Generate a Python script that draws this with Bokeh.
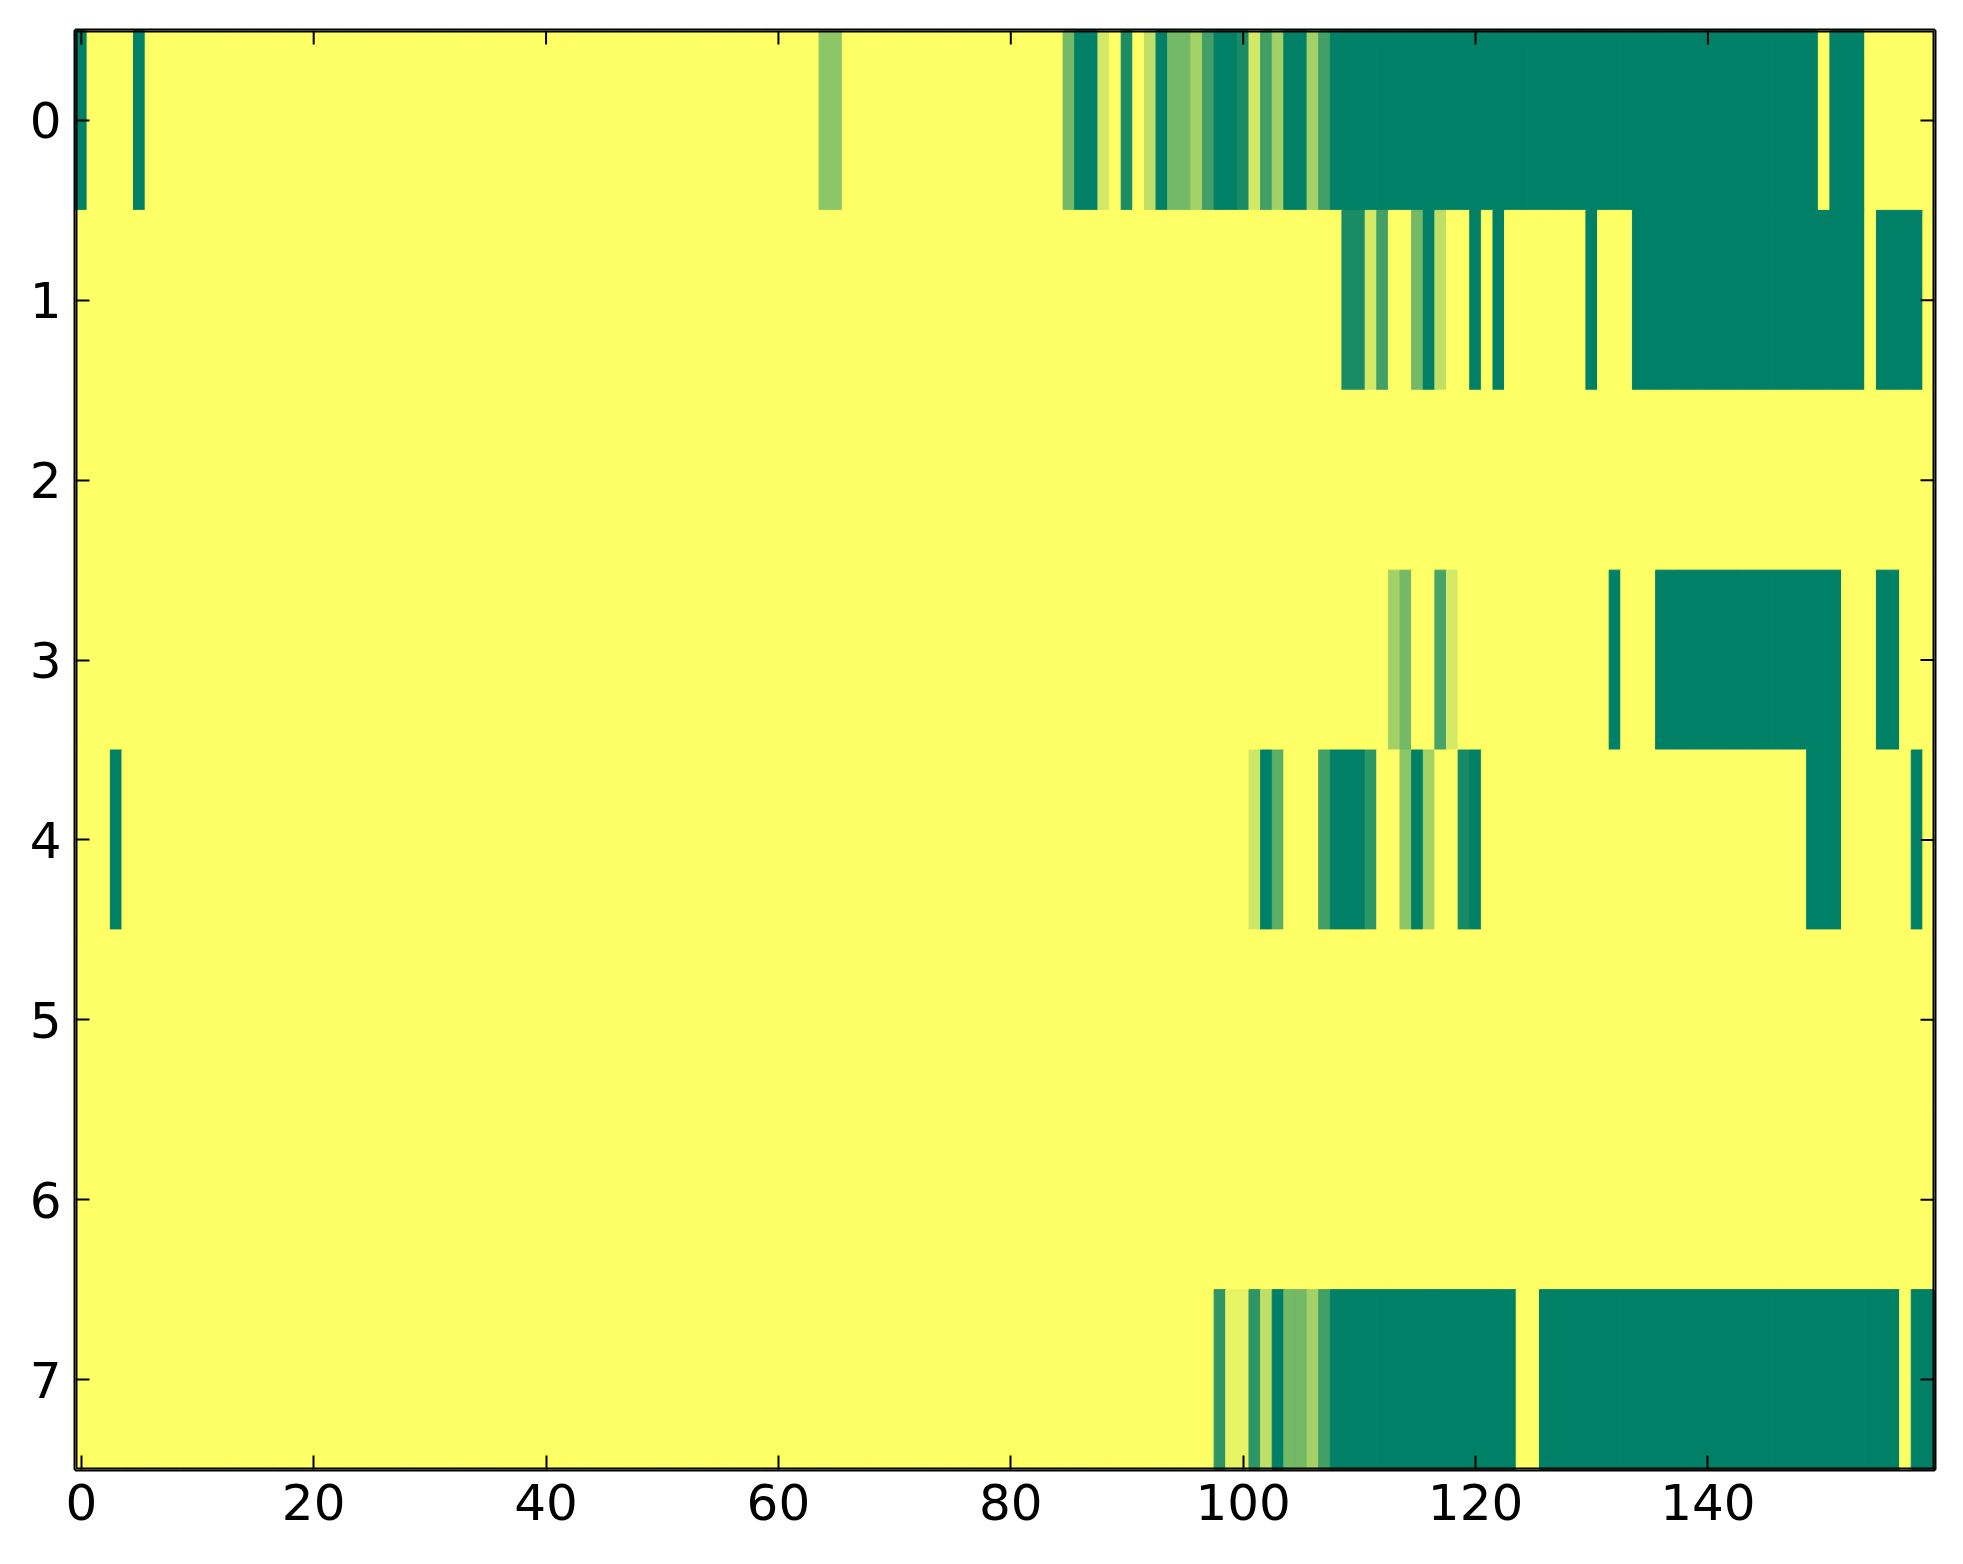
import math
from bokeh.plotting import figure
from bokeh.models import Range1d, FixedTicker, LinearAxis, ColumnDataSource, BoxAnnotation
from bokeh.transform import linear_cmap
from bokeh.embed import file_html
from bokeh.resources import INLINE

# values (0 = yellow ... 100 = dark green), 160 columns per row
row0 = [100, 0, 0, 0, 0, 100, 0, 0, 0, 0, 0, 0, 0, 0, 0, 0, 0, 0, 0, 0,
        0, 0, 0, 0, 0, 0, 0, 0, 0, 0, 0, 0, 0, 0, 0, 0, 0, 0, 0, 0,
        0, 0, 0, 0, 0, 0, 0, 0, 0, 0, 0, 0, 0, 0, 0, 0, 0, 0, 0, 0,
        0, 0, 0, 0, 45, 45, 0, 0, 0, 0, 0, 0, 0, 0, 0, 0, 0, 0, 0, 0,
        0, 0, 0, 0, 0, 55, 100, 100, 17, 0, 90, 0, 25, 100, 55, 55, 36, 74, 100, 100,
        90, 17, 74, 36, 100, 100, 36, 74, 100, 100, 100, 100, 100, 100, 100, 100, 100, 100, 100, 100,
        100, 100, 100, 100, 100, 100, 100, 100, 100, 100, 100, 100, 100, 100, 100, 100, 100, 100, 100, 100,
        100, 100, 100, 100, 100, 100, 100, 100, 100, 100, 0, 100, 100, 100, 0, 0, 0, 0, 0, 0]

row1 = [0, 0, 0, 0, 0, 0, 0, 0, 0, 0, 0, 0, 0, 0, 0, 0, 0, 0, 0, 0,
        0, 0, 0, 0, 0, 0, 0, 0, 0, 0, 0, 0, 0, 0, 0, 0, 0, 0, 0, 0,
        0, 0, 0, 0, 0, 0, 0, 0, 0, 0, 0, 0, 0, 0, 0, 0, 0, 0, 0, 0,
        0, 0, 0, 0, 0, 0, 0, 0, 0, 0, 0, 0, 0, 0, 0, 0, 0, 0, 0, 0,
        0, 0, 0, 0, 0, 0, 0, 0, 0, 0, 0, 0, 0, 0, 0, 0, 0, 0, 0, 0,
        0, 0, 0, 0, 0, 0, 0, 0, 0, 90, 90, 17, 74, 0, 0, 55, 100, 25, 0, 0,
        100, 0, 100, 0, 0, 0, 0, 0, 0, 0, 100, 0, 0, 0, 100, 100, 100, 100, 100, 100,
        100, 100, 100, 100, 100, 100, 100, 100, 100, 100, 100, 100, 100, 100, 0, 100, 100, 100, 100, 0]

row2 = [0, 0, 0, 0, 0, 0, 0, 0, 0, 0, 0, 0, 0, 0, 0, 0, 0, 0, 0, 0,
        0, 0, 0, 0, 0, 0, 0, 0, 0, 0, 0, 0, 0, 0, 0, 0, 0, 0, 0, 0,
        0, 0, 0, 0, 0, 0, 0, 0, 0, 0, 0, 0, 0, 0, 0, 0, 0, 0, 0, 0,
        0, 0, 0, 0, 0, 0, 0, 0, 0, 0, 0, 0, 0, 0, 0, 0, 0, 0, 0, 0,
        0, 0, 0, 0, 0, 0, 0, 0, 0, 0, 0, 0, 0, 0, 0, 0, 0, 0, 0, 0,
        0, 0, 0, 0, 0, 0, 0, 0, 0, 0, 0, 0, 0, 0, 0, 0, 0, 0, 0, 0,
        0, 0, 0, 0, 0, 0, 0, 0, 0, 0, 0, 0, 0, 0, 0, 0, 0, 0, 0, 0,
        0, 0, 0, 0, 0, 0, 0, 0, 0, 0, 0, 0, 0, 0, 0, 0, 0, 0, 0, 0]

row3 = [0, 0, 0, 0, 0, 0, 0, 0, 0, 0, 0, 0, 0, 0, 0, 0, 0, 0, 0, 0,
        0, 0, 0, 0, 0, 0, 0, 0, 0, 0, 0, 0, 0, 0, 0, 0, 0, 0, 0, 0,
        0, 0, 0, 0, 0, 0, 0, 0, 0, 0, 0, 0, 0, 0, 0, 0, 0, 0, 0, 0,
        0, 0, 0, 0, 0, 0, 0, 0, 0, 0, 0, 0, 0, 0, 0, 0, 0, 0, 0, 0,
        0, 0, 0, 0, 0, 0, 0, 0, 0, 0, 0, 0, 0, 0, 0, 0, 0, 0, 0, 0,
        0, 0, 0, 0, 0, 0, 0, 0, 0, 0, 0, 0, 0, 36, 55, 0, 0, 72, 17, 0,
        0, 0, 0, 0, 0, 0, 0, 0, 0, 0, 0, 0, 100, 0, 0, 0, 100, 100, 100, 100,
        100, 100, 100, 100, 100, 100, 100, 100, 100, 100, 100, 100, 0, 0, 0, 100, 100, 0, 0, 0]

row4 = [0, 0, 0, 100, 0, 0, 0, 0, 0, 0, 0, 0, 0, 0, 0, 0, 0, 0, 0, 0,
        0, 0, 0, 0, 0, 0, 0, 0, 0, 0, 0, 0, 0, 0, 0, 0, 0, 0, 0, 0,
        0, 0, 0, 0, 0, 0, 0, 0, 0, 0, 0, 0, 0, 0, 0, 0, 0, 0, 0, 0,
        0, 0, 0, 0, 0, 0, 0, 0, 0, 0, 0, 0, 0, 0, 0, 0, 0, 0, 0, 0,
        0, 0, 0, 0, 0, 0, 0, 0, 0, 0, 0, 0, 0, 0, 0, 0, 0, 0, 0, 0,
        0, 19, 100, 64, 0, 0, 0, 74, 100, 100, 100, 82, 0, 0, 45, 100, 36, 0, 0, 92,
        100, 0, 0, 0, 0, 0, 0, 0, 0, 0, 0, 0, 0, 0, 0, 0, 0, 0, 0, 0,
        0, 0, 0, 0, 0, 0, 0, 0, 0, 100, 100, 100, 0, 0, 0, 0, 0, 0, 100, 0]

row5 = [0, 0, 0, 0, 0, 0, 0, 0, 0, 0, 0, 0, 0, 0, 0, 0, 0, 0, 0, 0,
        0, 0, 0, 0, 0, 0, 0, 0, 0, 0, 0, 0, 0, 0, 0, 0, 0, 0, 0, 0,
        0, 0, 0, 0, 0, 0, 0, 0, 0, 0, 0, 0, 0, 0, 0, 0, 0, 0, 0, 0,
        0, 0, 0, 0, 0, 0, 0, 0, 0, 0, 0, 0, 0, 0, 0, 0, 0, 0, 0, 0,
        0, 0, 0, 0, 0, 0, 0, 0, 0, 0, 0, 0, 0, 0, 0, 0, 0, 0, 0, 0,
        0, 0, 0, 0, 0, 0, 0, 0, 0, 0, 0, 0, 0, 0, 0, 0, 0, 0, 0, 0,
        0, 0, 0, 0, 0, 0, 0, 0, 0, 0, 0, 0, 0, 0, 0, 0, 0, 0, 0, 0,
        0, 0, 0, 0, 0, 0, 0, 0, 0, 0, 0, 0, 0, 0, 0, 0, 0, 0, 0, 0]

row6 = [0, 0, 0, 0, 0, 0, 0, 0, 0, 0, 0, 0, 0, 0, 0, 0, 0, 0, 0, 0,
        0, 0, 0, 0, 0, 0, 0, 0, 0, 0, 0, 0, 0, 0, 0, 0, 0, 0, 0, 0,
        0, 0, 0, 0, 0, 0, 0, 0, 0, 0, 0, 0, 0, 0, 0, 0, 0, 0, 0, 0,
        0, 0, 0, 0, 0, 0, 0, 0, 0, 0, 0, 0, 0, 0, 0, 0, 0, 0, 0, 0,
        0, 0, 0, 0, 0, 0, 0, 0, 0, 0, 0, 0, 0, 0, 0, 0, 0, 0, 0, 0,
        0, 0, 0, 0, 0, 0, 0, 0, 0, 0, 0, 0, 0, 0, 0, 0, 0, 0, 0, 0,
        0, 0, 0, 0, 0, 0, 0, 0, 0, 0, 0, 0, 0, 0, 0, 0, 0, 0, 0, 0,
        0, 0, 0, 0, 0, 0, 0, 0, 0, 0, 0, 0, 0, 0, 0, 0, 0, 0, 0, 0]

row7 = [0, 0, 0, 0, 0, 0, 0, 0, 0, 0, 0, 0, 0, 0, 0, 0, 0, 0, 0, 0,
        0, 0, 0, 0, 0, 0, 0, 0, 0, 0, 0, 0, 0, 0, 0, 0, 0, 0, 0, 0,
        0, 0, 0, 0, 0, 0, 0, 0, 0, 0, 0, 0, 0, 0, 0, 0, 0, 0, 0, 0,
        0, 0, 0, 0, 0, 0, 0, 0, 0, 0, 0, 0, 0, 0, 0, 0, 0, 0, 0, 0,
        0, 0, 0, 0, 0, 0, 0, 0, 0, 0, 0, 0, 0, 0, 0, 0, 0, 0, 82, 9,
        9, 82, 25, 100, 55, 55, 36, 74, 100, 100, 100, 100, 100, 100, 100, 100, 100, 100, 100, 100,
        100, 100, 100, 100, 0, 0, 100, 100, 100, 100, 100, 100, 100, 100, 100, 100, 100, 100, 100, 100,
        100, 100, 100, 100, 100, 100, 100, 100, 100, 100, 100, 100, 100, 100, 100, 100, 100, 0, 100, 100]

rows = [row0, row1, row2, row3, row4, row5, row6, row7]
x_ticks = [0, 20, 40, 60, 80, 100, 120, 140]
y_ticks = [0, 1, 2, 3, 4, 5, 6, 7]
x_lo, x_hi = -0.5, 159.5
y_top, y_bottom = -0.5, 7.5

# reversed "summer" colour map: low -> yellow, high -> green
palette = []
for i in range(256):
    t = i / 255.0
    r = int(round(255 * (1 - t)))
    g = int(round(255 * (1 - 0.5 * t)))
    palette.append("#%02x%02x%02x" % (r, g, 102))

xs, ys, vs = [], [], []
for yi, row in enumerate(rows):
    for xi, v in enumerate(row):
        xs.append(xi)
        ys.append(yi)
        vs.append(v)
src = ColumnDataSource(dict(x=xs, y=ys, v=vs))

W, H = 1947, 1549
p = figure(width=W, height=H, output_backend="svg", toolbar_location=None,
           x_range=Range1d(x_lo, x_hi), y_range=Range1d(y_bottom, y_top),
           min_border_left=75, min_border_right=13, min_border_top=30, min_border_bottom=80,
           x_axis_location=None, y_axis_location=None)
p.grid.visible = False
p.background_fill_color = "white"
p.border_fill_color = "white"

cmap = linear_cmap("v", palette, 0, 100)
p.rect(x="x", y="y", width=1, height=1, source=src,
       fill_color=cmap, line_color=cmap, line_width=1)

font = "DejaVu Sans"
def make_axis(ticks):
    ax = LinearAxis(ticker=FixedTicker(ticks=ticks))
    ax.axis_line_color = None
    ax.major_tick_in = 14
    ax.major_tick_out = 0
    ax.major_tick_line_width = 2
    ax.major_tick_line_color = "black"
    ax.minor_tick_line_color = None
    ax.major_label_text_font = font
    ax.major_label_text_color = "black"
    ax.major_label_text_font_size = "50px"
    ax.major_label_standoff = 14
    return ax

p.add_layout(make_axis(x_ticks), "below")
p.add_layout(make_axis(y_ticks), "left")

# inward tick marks on the top and right edges (no labels there)
p.ray(x=x_ticks, y=[y_top] * len(x_ticks), length=14, length_units="screen",
      angle=-math.pi / 2, line_color="black", line_width=2)
p.ray(x=[x_hi] * len(y_ticks), y=y_ticks, length=14, length_units="screen",
      angle=math.pi, line_color="black", line_width=2)

# axes frame (spines) drawn on top of the cells
p.outline_line_color = "black"
p.outline_line_width = 4
p.add_layout(BoxAnnotation(left=x_lo, right=x_hi, top=y_top, bottom=y_bottom,
                           fill_alpha=0, line_color="black", line_width=4, line_alpha=1))

open("out.html", "w").write(file_html(p, INLINE))
